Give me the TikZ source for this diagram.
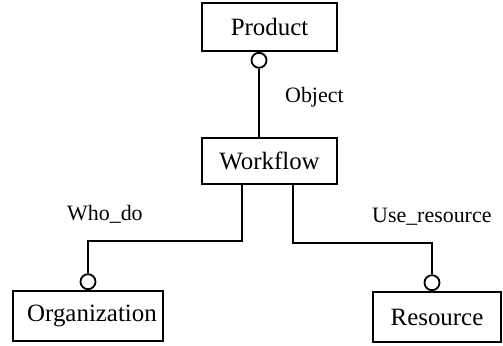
\documentclass[tikz,border=0pt]{standalone}
\usepackage{fontspec}
\setmainfont{Liberation Serif}
\begin{document}
\begin{tikzpicture}[x=1bp,y=-1bp,
  entity/.style={draw, line width=1.8bp, inner sep=0pt,
    font=\fontsize{25}{30}\selectfont},
  ring/.style={circle, draw, line width=1.8bp, fill=white,
    minimum size=15bp, inner sep=0pt},
  link/.style={line width=2bp, line join=miter},
  lbl/.style={inner sep=0pt, font=\fontsize{22}{26}\selectfont}]
\useasboundingbox (0,0) rectangle (503,345);

% entity boxes
\node[entity, minimum width=135bp, minimum height=48bp] (product) at (269.5,27) {Product};
\node[entity, minimum width=135bp, minimum height=46bp] (workflow) at (269.5,161) {Workflow};
\node[entity, minimum width=150bp, minimum height=50bp] (org) at (88,316) {\hspace{8bp}Organization};
\node[entity, minimum width=128bp, minimum height=50bp] (res) at (437,317) {Resource};

% optional-end circles
\node[ring, anchor=north] (pc) at ([xshift=-10.5bp]product.south) {};
\node[ring, anchor=south] (oc) at (org.north) {};
\node[ring, anchor=south] (rc) at ([xshift=-5bp]res.north) {};

% relationships
\draw[link] (pc.south) -- (pc.south |- workflow.north);
\draw[link] ([xshift=-27.5bp]workflow.south) -- ++(0,56) -| (oc.north);
\draw[link] ([xshift=23.5bp]workflow.south) -- ++(0,58) -| (rc.north);

% relationship names
\node[lbl, anchor=base west] (objlbl) at (285,102) {Object};
\node[lbl, anchor=base west] (wholbl) at (67,220) {Who\_do};
\node[lbl, anchor=base west] (uselbl) at (372,222) {Use\_resource};
\end{tikzpicture}
\end{document}
